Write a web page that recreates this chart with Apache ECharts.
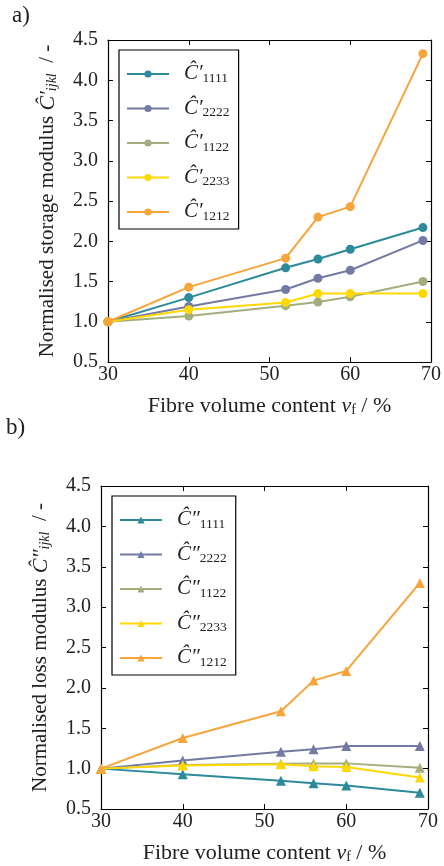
<!DOCTYPE html>
<html>
<head>
<meta charset="utf-8">
<script src="https://cdn.jsdelivr.net/npm/echarts@6/dist/echarts.min.js"></script>
<style>
  html, body { margin: 0; padding: 0; background: #fff; }
  #chart { width: 444px; height: 866px; }
</style>
</head>
<body>
<div id="chart"></div>
<script>
// fibre volume content (x)
const vf = [30, 40, 52, 56, 60, 69];

// a) normalised storage modulus
const storage1111 = [1.0, 1.30, 1.67, 1.78, 1.90, 2.17];
const storage2222 = [1.0, 1.19, 1.40, 1.54, 1.64, 2.01];
const storage1122 = [1.0, 1.07, 1.20, 1.245, 1.31, 1.50];
const storage2233 = [1.0, 1.15, 1.24, 1.35, 1.35, 1.35];
const storage1212 = [1.0, 1.43, 1.79, 2.30, 2.43, 4.33];

// b) normalised loss modulus
const loss1111 = [1.0, 0.93, 0.85, 0.82, 0.79, 0.70];
const loss2222 = [1.0, 1.10, 1.21, 1.24, 1.28, 1.28];
const loss1122 = [1.0, 1.045, 1.06, 1.065, 1.065, 1.01];
const loss2233 = [1.0, 1.04, 1.055, 1.03, 1.02, 0.89];
const loss1212 = [1.0, 1.38, 1.71, 2.09, 2.21, 3.30];

const indices = ['1111', '2222', '1122', '2233', '1212'];
const colors = ['#2c8a9a', '#737aa3', '#a3ae7e', '#ffd800', '#f7a43a'];

const FONT = 'Liberation Serif, DejaVu Serif, serif';

const chart = echarts.init(document.getElementById('chart'));

const pairs = (ys) => ys.map((y, i) => [vf[i], y]);

// 富文本样式：Ĉ 加下标
const richText = {
  c: { fontFamily: FONT, fontStyle: 'italic', fontSize: 22, lineHeight: 22, verticalAlign: 'top', color: '#222' },
  s: { fontFamily: FONT, fontSize: 14, lineHeight: 14, verticalAlign: 'bottom', padding: [12, 0, 0, 0], color: '#222' },
  si: { fontFamily: FONT, fontStyle: 'italic', fontSize: 14, lineHeight: 14, verticalAlign: 'bottom', padding: [12, 0, 0, 0], color: '#222' },
  n: { fontFamily: FONT, fontSize: 21, lineHeight: 22, verticalAlign: 'top', color: '#222' },
  nx: { fontFamily: FONT, fontSize: 22, lineHeight: 22, verticalAlign: 'top', color: '#222' },
  ix: { fontFamily: FONT, fontStyle: 'italic', fontSize: 22, lineHeight: 22, verticalAlign: 'top', color: '#222' }
};

const legendRich = {
  c: { fontFamily: FONT, fontStyle: 'italic', fontSize: 21, lineHeight: 22, verticalAlign: 'top', color: '#222', padding: [0, 0, 0, 10] },
  s: { fontFamily: FONT, fontSize: 13.5, lineHeight: 14, verticalAlign: 'bottom', padding: [12, 0, 0, 0], color: '#222' }
};

function xAxes(grid) {
  return [
    {
      gridIndex: grid, type: 'value', min: 30, max: 70, interval: 10, position: 'bottom',
      name: '{nx|Fibre volume content }{ix|v}{s|f}{nx| / %}',
      nameLocation: 'middle', nameGap: 33,
      nameTextStyle: { rich: richText },
      axisLine: { lineStyle: { color: '#000', width: 1.2 } },
      axisTick: { inside: true, length: 5, lineStyle: { color: '#000' } },
      axisLabel: { fontFamily: FONT, fontSize: 20, color: '#222', margin: 3, showMaxLabel: true },
      splitLine: { show: false }
    },
    {
      gridIndex: grid, type: 'value', min: 30, max: 70, interval: 10, position: 'top',
      axisLine: { onZero: false, lineStyle: { color: '#000', width: 1.2 } },
      axisTick: { inside: true, length: 5, lineStyle: { color: '#000' } },
      axisLabel: { show: false }, splitLine: { show: false }
    }
  ];
}

function yAxes(grid, nameText, gap) {
  return [
    {
      gridIndex: grid, type: 'value', min: 0.5, max: 4.5, interval: 0.5, position: 'left',
      name: nameText, nameLocation: 'middle', nameGap: gap,
      nameTextStyle: { rich: richText },
      axisLine: { show: true, lineStyle: { color: '#000', width: 1.2 } },
      axisTick: { show: true, inside: true, length: 5, lineStyle: { color: '#000' } },
      axisLabel: { fontFamily: FONT, fontSize: 20, color: '#222', margin: 10, formatter: v => v.toFixed(1) },
      splitLine: { show: false }
    },
    {
      gridIndex: grid, type: 'value', min: 0.5, max: 4.5, interval: 0.5, position: 'right',
      axisLine: { show: true, onZero: false, lineStyle: { color: '#000', width: 1.2 } },
      axisTick: { show: true, inside: true, length: 5, lineStyle: { color: '#000' } },
      axisLabel: { show: false }, splitLine: { show: false }
    }
  ];
}

function makeSeries(prefix, arrays, symbol, size, axisOffset) {
  return arrays.map((ys, k) => ({
    name: prefix + indices[k],
    type: 'line',
    xAxisIndex: axisOffset, yAxisIndex: axisOffset,
    data: pairs(ys),
    symbol: symbol, symbolSize: size,
    showSymbol: true,
    itemStyle: { color: colors[k] },
    lineStyle: { color: colors[k], width: 2 },
    z: 2 + k
  }));
}

function legendFor(prefix, left, top, primeChar) {
  return {
    orient: 'vertical', left: left, top: top,
    data: indices.map(d => prefix + d),
    itemWidth: 42, itemHeight: 9, itemGap: 8.5,
    padding: [9, 9, 6, 7],
    borderColor: '#000', borderWidth: 1.2,
    backgroundColor: '#fff',
    selectedMode: false,
    formatter: name => '{c|Ĉ' + primeChar + '}{s|' + name.slice(1) + '}',
    textStyle: { rich: legendRich }
  };
}

const option = {
  animation: false,
  textStyle: { fontFamily: FONT },
  grid: [
    { left: 108, top: 40, width: 326, height: 322 },
    { left: 101, top: 486, width: 327, height: 323 }
  ],
  // x/y 轴: 0,1 属于上图; 2,3 属于下图
  xAxis: [...xAxes(0), ...xAxes(1)],
  yAxis: [
    ...yAxes(0, '{n|Normalised storage modulus }{c|Ĉ′}{si|ijkl}{n|  / -}', 49),
    ...yAxes(1, '{n|Normalised loss modulus }{c|Ĉ″}{si|ijkl}{n|  / -}', 49)
  ],
  legend: [
    legendFor('s', 119, 50, '′'),
    legendFor('l', 112, 496, '″')
  ],
  graphic: [
    { type: 'text', left: 12, top: 4, style: { text: 'a)', font: '23px ' + FONT, fill: '#222' } },
    { type: 'text', left: 6, top: 416, style: { text: 'b)', font: '23px ' + FONT, fill: '#222' } }
  ],
  series: [
    ...makeSeries('s', [storage1111, storage2222, storage1122, storage2233, storage1212], 'circle', 9, 0),
    ...makeSeries('l', [loss1111, loss2222, loss1122, loss2233, loss1212], 'triangle', 10, 2)
  ]
};

chart.setOption(option);
</script>
</body>
</html>
